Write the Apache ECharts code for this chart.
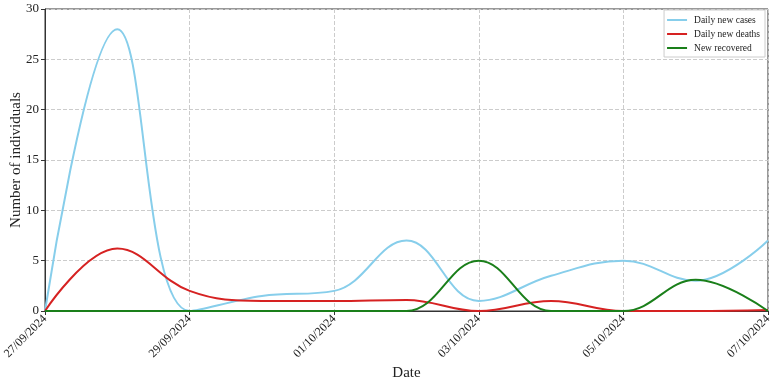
<!DOCTYPE html>
<html>
<head>
<meta charset="utf-8">
<script src="https://cdn.jsdelivr.net/npm/echarts@6/dist/echarts.min.js"></script>
<style>
  html, body { margin: 0; padding: 0; background: #fff; }
  #chart { width: 779px; height: 380px; }
</style>
</head>
<body>
<div id="chart"></div>
<script>
// dates, one per day
const dates = ['27/09/2024', '28/09/2024', '29/09/2024', '30/09/2024', '01/10/2024', '02/10/2024',
  '03/10/2024', '04/10/2024', '05/10/2024', '06/10/2024', '07/10/2024'];
// series values
const dailyCases = [0, 28, 0, 1.5, 2, 7, 1, 3.5, 5, 3, 7];
const dailyDeaths = [0, 6.2, 2, 1, 1, 1.1, 0, 1, 0, 0, 0.1];
const newRecovered = [0, 0, 0, 0, 0, 0, 5, 0, 0, 3.1, 0];
const yTicks = [0, 5, 10, 15, 20, 25, 30];

const font = 'Liberation Serif, Times New Roman, serif';
const myChart = echarts.init(document.getElementById('chart'));

function lineSeries(name, data, color) {
  return {
    name: name,
    type: 'line',
    data: data,
    smooth: 0.4,
    showSymbol: false,
    lineStyle: { color: color, width: 2 },
    itemStyle: { color: color }
  };
}

const option = {
  animation: false,
  grid: {
    left: 45, right: 11, top: 9, bottom: 69,
    containLabel: false,
    outerBoundsMode: 'none',
    show: true, borderColor: '#333', borderWidth: 1
  },
  legend: {
    orient: 'vertical',
    right: 14,
    top: 10,
    icon: 'rect',
    itemWidth: 20,
    itemHeight: 2,
    itemGap: 4,
    padding: [5, 5, 4, 3],
    borderColor: '#ccc',
    borderWidth: 1,
    textStyle: { fontFamily: font, fontSize: 9.5, color: '#222', padding: [0, 0, 0, 2] },
    data: ['Daily new cases', 'Daily new deaths', 'New recovered']
  },
  xAxis: {
    type: 'category',
    data: dates,
    boundaryGap: false,
    name: 'Date',
    nameLocation: 'middle',
    nameGap: 55,
    nameMoveOverlap: false,
    nameTextStyle: { fontFamily: font, fontSize: 15, color: '#222' },
    axisLine: { lineStyle: { color: '#333' } },
    axisTick: { interval: 1, length: 4, lineStyle: { color: '#333' } },
    axisLabel: { interval: 1, rotate: 45, fontFamily: font, fontSize: 12, color: '#222', margin: 6 },
    splitLine: { show: true, interval: 1, lineStyle: { color: '#ccc', type: 'dashed' } }
  },
  yAxis: {
    type: 'value',
    min: yTicks[0],
    max: yTicks[yTicks.length - 1],
    interval: 5,
    name: 'Number of individuals',
    nameLocation: 'middle',
    nameGap: 21,
    nameMoveOverlap: false,
    nameTextStyle: { fontFamily: font, fontSize: 15, color: '#222' },
    axisLine: { show: true, lineStyle: { color: '#333' } },
    axisTick: { show: true, length: 4, lineStyle: { color: '#333' } },
    axisLabel: { fontFamily: font, fontSize: 13, color: '#222', margin: 6 },
    splitLine: { show: true, lineStyle: { color: '#ccc', type: 'dashed' } }
  },
  series: [
    lineSeries('Daily new cases', dailyCases, '#87CEEB'),
    lineSeries('Daily new deaths', dailyDeaths, '#d62222'),
    lineSeries('New recovered', newRecovered, '#1a7f1a')
  ]
};

myChart.setOption(option);
</script>
</body>
</html>
